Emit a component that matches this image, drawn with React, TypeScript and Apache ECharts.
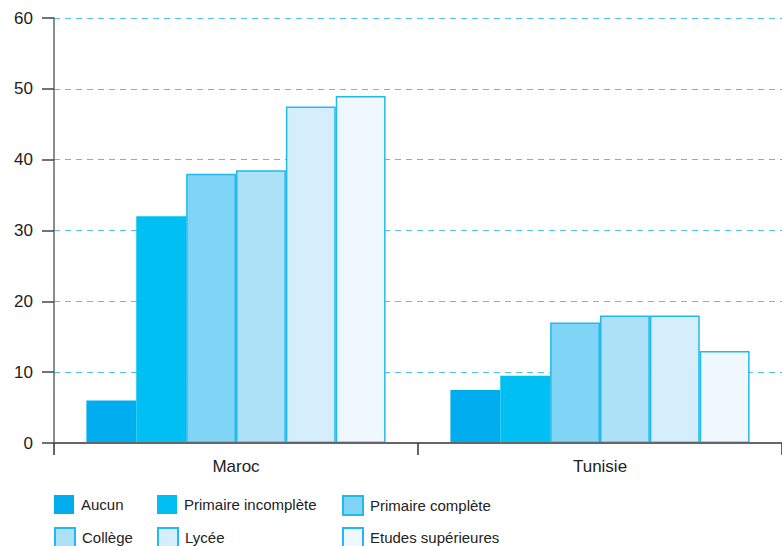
import React, { useEffect, useRef } from "react";
import * as echarts from "echarts";

const categories = ["Maroc", "Tunisie"];
const seriesNames = [
  "Aucun",
  "Primaire incomplète",
  "Primaire complète",
  "Collège",
  "Lycée",
  "Etudes supérieures",
];
const marocValues = [6, 32, 38, 38.5, 47.5, 49];
const tunisieValues = [7.5, 9.5, 17, 18, 18, 13];
const yTicks = { min: 0, max: 60, interval: 10 };

const fills = ["#00aeef", "#00c0f3", "#80d4f6", "#ade1f8", "#d4eefb", "#eef8fe"];
const borders = ["#00aeef", "#00c0f3", "#22b9ee", "#22b9ee", "#22b9ee", "#22b9ee"];
const legendLeft = [54, 157, 342, 54, 157, 342];
const legendTop = [495, 495, 495, 527, 527, 527];

const FONT = "Liberation Sans, Arial, Helvetica, sans-serif";

export default function App() {
  const ref = useRef<HTMLDivElement>(null);
  useEffect(() => {
    if (!ref.current) return;
    const chart = echarts.init(ref.current, null, { renderer: "svg" });
    const series = seriesNames.map((name, i) => ({
      name,
      type: "bar",
      data: [marocValues[i], tunisieValues[i]],
      barGap: "0%",
      barCategoryGap: "17.8%",
      itemStyle: {
        color: fills[i],
        borderColor: borders[i],
        borderWidth: i < 2 ? 0 : 1.5,
      },
    }));
    const legends = seriesNames.map((name, i) => ({
      show: true,
      orient: "horizontal",
      left: legendLeft[i],
      top: legendTop[i],
      padding: 0,
      itemGap: 10,
      itemWidth: 20,
      itemHeight: 19,
      icon: "rect",
      data: [name],
      selectedMode: false,
      textStyle: { fontFamily: FONT, fontSize: 15, color: "#222", padding: [0, 0, 0, 2] },
    }));
    chart.setOption({
      animation: false,
      grid: { left: 54, right: -2, top: 18, bottom: 103, containLabel: false },
      legend: legends,
      xAxis: {
        type: "category",
        data: categories,
        axisLine: { show: true, lineStyle: { color: "#666", width: 2 }, onZero: true },
        axisTick: { show: true, length: 12, lineStyle: { color: "#333", width: 1.5 } },
        axisLabel: { fontFamily: FONT, fontSize: 17, color: "#222", margin: 15 },
        z: 5,
      },
      yAxis: {
        type: "value",
        min: yTicks.min,
        max: yTicks.max,
        interval: yTicks.interval,
        axisLine: { show: true, lineStyle: { color: "#666", width: 1.5 } },
        axisTick: { show: true, length: 12, lineStyle: { color: "#444", width: 1.5 } },
        axisLabel: { fontFamily: FONT, fontSize: 17, color: "#222", margin: 21 },
        splitLine: { show: true, lineStyle: { color: "#4cc4ef", width: 1.2, type: [6, 5] } },
      },
      series,
    });
    return () => chart.dispose();
  }, []);
  return <div ref={ref} style={{ width: 782, height: 546, position: "absolute", left: 0, top: 0 }} />;
}
